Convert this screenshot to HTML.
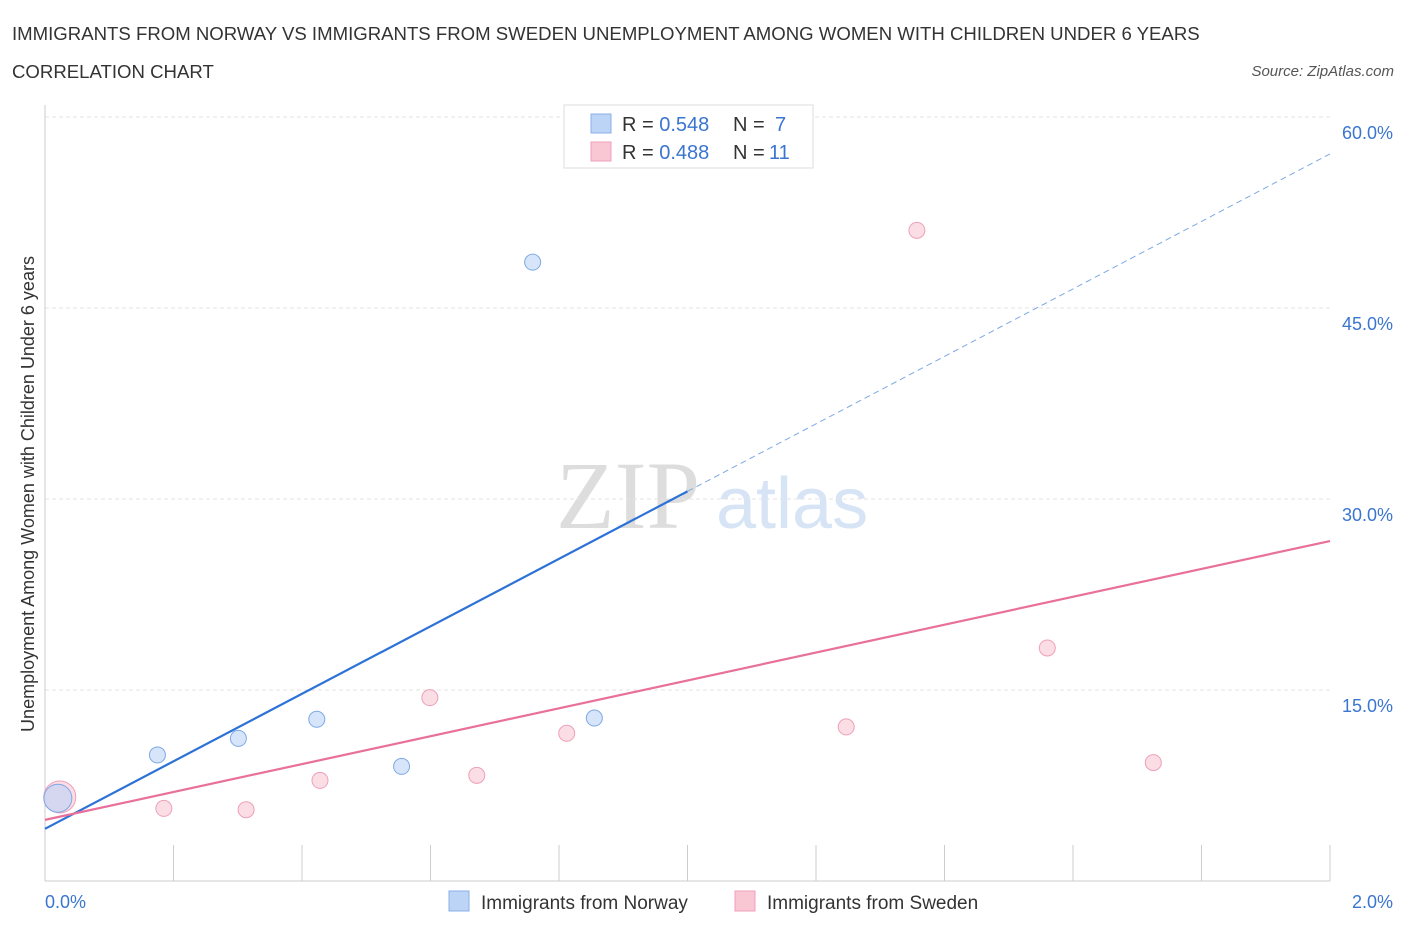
<!DOCTYPE html>
<html><head><meta charset="utf-8">
<style>
body{margin:0;background:#fff;font-family:"Liberation Sans",sans-serif;}
svg text{font-family:"Liberation Sans",sans-serif;}
</style></head>
<body>
<svg id="chart" width="1406" height="930">
<text x="12" y="40" font-size="18.6" fill="#333">IMMIGRANTS FROM NORWAY VS IMMIGRANTS FROM SWEDEN UNEMPLOYMENT AMONG WOMEN WITH CHILDREN UNDER 6 YEARS</text>
<text x="12" y="78" font-size="18.6" fill="#333">CORRELATION CHART</text>
<text x="1394" y="76" font-size="15" fill="#555" font-style="italic" text-anchor="end">Source: ZipAtlas.com</text>
<text x="556" y="528" font-size="96" fill="#ddd" style="font-family:'Liberation Serif',serif">ZIP</text>
<text x="716" y="528" font-size="72" fill="#d6e4f5">atlas</text>
<g id="grid"></g>
<g id="axes"></g>
<g id="lines"></g>
<g id="points"></g>
<text transform="translate(34,494) rotate(-90)" font-size="18" fill="#333" text-anchor="middle">Unemployment Among Women with Children Under 6 years</text>
<g>
<rect x="564" y="105" width="249" height="63" fill="#fff" stroke="#ddd"/>
<rect x="591" y="114" width="20" height="19" fill="#bcd4f6" stroke="#8ab0e8"/>
<rect x="591" y="142" width="20" height="19" fill="#f9c6d4" stroke="#eea0b8"/>
<text x="622" y="131" font-size="20" fill="#333">R = <tspan fill="#3a75d0">0.548</tspan><tspan x="733">N = </tspan><tspan x="775" fill="#3a75d0">7</tspan></text>
<text x="622" y="159" font-size="20" fill="#333">R = <tspan fill="#3a75d0">0.488</tspan><tspan x="733">N = </tspan><tspan x="769" fill="#3a75d0">11</tspan></text>
</g>
<g>
<rect x="449" y="891" width="20" height="20" fill="#bcd4f6" stroke="#8ab0e8"/>
<text x="481" y="909" font-size="19" fill="#333">Immigrants from Norway</text>
<rect x="735" y="891" width="20" height="20" fill="#f9c6d4" stroke="#eea0b8"/>
<text x="767" y="909" font-size="19" fill="#333">Immigrants from Sweden</text>
</g>
</svg>
<script>
const yTicks=[15,30,45,60];
const yTickLabels=["15.0%","30.0%","45.0%","60.0%"];
const xTickCount=10;
const norwayX=[0.02,0.175,0.301,0.423,0.555,0.759,0.855];
const norwayY=[6.5,9.9,11.2,12.7,9.0,48.6,12.8];
const norwaySize=[14,8,8,8,8,8,8];
const swedenX=[0.023,0.185,0.313,0.428,0.599,0.672,0.812,1.247,1.357,1.560,1.725];
const swedenY=[6.6,5.7,5.6,7.9,14.4,8.3,11.6,12.1,51.1,18.3,9.3];
const swedenSize=[16,8,8,8,8,8,8,8,8,8,8];
const norwayTrend=[[0,4.1],[1.0,30.6],[2.0,57.1]];
const swedenTrend=[[0,4.8],[2.0,26.7]];
const X=v=>45+v/2*1285, Y=v=>881-v/15*191;
const NS="http://www.w3.org/2000/svg";
function mk(p,t,a){const e=document.createElementNS(NS,t);for(const k in a)e.setAttribute(k,a[k]);document.getElementById(p).appendChild(e);return e;}
yTicks.forEach((t,i)=>{
 const l=mk('grid','line',{x1:45,x2:1330,y1:Y(t),y2:Y(t),stroke:'#e3e3e3','stroke-dasharray':'4,3'});
 
 
 const tx=mk('grid','text',{x:1393,y:Y(t)+22,'font-size':18,fill:'#3a75d0','text-anchor':'end'});
 tx.textContent=yTickLabels[i];
 
 
});
const ax=mk('axes','line',{x1:45,x2:1330,y1:881,y2:881,stroke:'#ccc'});


const ay=mk('axes','line',{x1:45,x2:45,y1:105,y2:881,stroke:'#ccc'});


for(let i=1;i<=xTickCount;i++){const v=i*2/xTickCount;
 const t=mk('axes','line',{x1:X(v),x2:X(v),y1:845,y2:881,stroke:'#ccc'});
 
 }
const x0=mk('axes','text',{x:45,y:908,'font-size':18,fill:'#3a75d0'});x0.textContent='0.0%';


const x1=mk('axes','text',{x:1393,y:908,'font-size':18,fill:'#3a75d0','text-anchor':'end'});x1.textContent='2.0%';


function pts(xs,ys,ss,fill,stroke,name){xs.forEach((x,i)=>{
 const c=mk('points','circle',{cx:X(x),cy:Y(ys[i]),r:ss[i],fill:fill,stroke:stroke,'stroke-width':1,'fill-opacity':0.6});
 
 });}
pts(swedenX,swedenY,swedenSize,'#f9c6d4','#eea0b8','sweden-point');
pts(norwayX,norwayY,norwaySize,'#bcd4f6','#7ea8e4','norway-point');
const nl=mk('lines','line',{x1:X(norwayTrend[0][0]),y1:Y(norwayTrend[0][1]),x2:X(norwayTrend[1][0]),y2:Y(norwayTrend[1][1]),stroke:'#2d72d6','stroke-width':2.2});


const nd=mk('lines','line',{x1:X(norwayTrend[1][0]),y1:Y(norwayTrend[1][1]),x2:X(norwayTrend[2][0]),y2:Y(norwayTrend[2][1]),stroke:'#7ea8e4','stroke-width':1,'stroke-dasharray':'6,4'});


const sl=mk('lines','line',{x1:X(swedenTrend[0][0]),y1:Y(swedenTrend[0][1]),x2:X(swedenTrend[1][0]),y2:Y(swedenTrend[1][1]),stroke:'#e8709a','stroke-width':2.2});


</script>
</body></html>
